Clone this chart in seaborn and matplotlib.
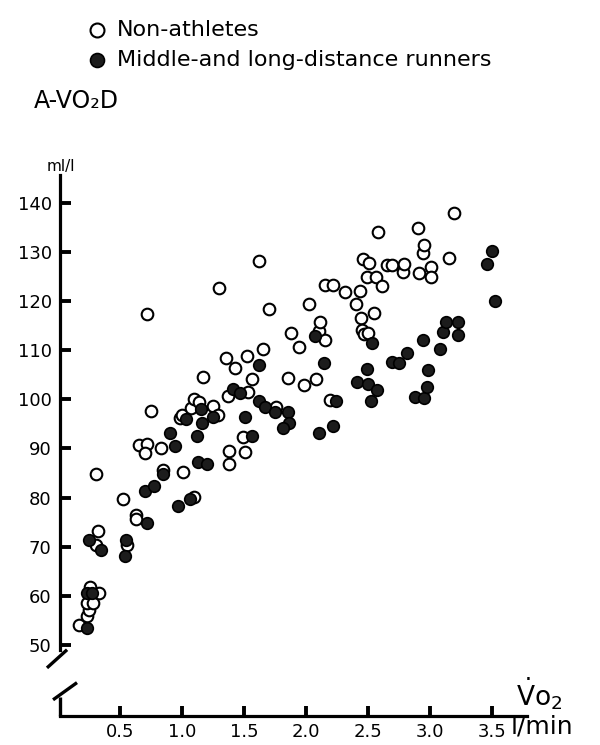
import pandas as pd
import matplotlib
matplotlib.use('Agg')
import matplotlib.pyplot as plt
import seaborn as sns

# non-athletes (open circles)
non_x = [0.17, 0.23, 0.25, 0.23, 0.28, 0.33, 0.26, 0.32, 0.31, 0.31,
         0.52, 0.63, 0.63, 0.56, 0.65, 0.72, 0.70, 0.75, 0.72, 0.83,
         0.85, 1.01, 1.10, 0.98, 1.00, 1.07, 1.10, 1.14, 1.17, 1.25,
         1.29, 1.30, 1.35, 1.37, 1.38, 1.38, 1.43, 1.49, 1.51, 1.52,
         1.53, 1.56, 1.62, 1.65, 1.70, 1.76, 1.85, 1.88, 1.94, 1.98,
         2.02, 2.08, 2.10, 2.11, 2.15, 2.15, 2.19, 2.22, 2.31, 2.40,
         2.43, 2.44, 2.45, 2.47, 2.50, 2.46, 2.51, 2.49, 2.55, 2.56,
         2.58, 2.61, 2.65, 2.69, 2.78, 2.79, 2.90, 2.91, 2.94, 2.95,
         3.01, 3.01, 3.15, 3.19]
non_y = [54.1, 55.9, 57.0, 58.5, 58.5, 60.6, 61.8, 73.2, 84.8, 70.3,
         79.7, 76.5, 75.7, 70.3, 90.7, 90.9, 89.1, 97.6, 117.4, 90.1,
         85.6, 85.2, 80.1, 96.2, 96.8, 98.2, 100.0, 99.5, 104.6, 98.7,
         96.8, 122.7, 108.4, 100.7, 89.5, 86.8, 106.4, 92.3, 89.3, 108.8,
         101.5, 104.2, 128.2, 110.3, 118.4, 98.5, 104.4, 113.5, 110.7, 102.9,
         119.4, 104.2, 113.9, 115.8, 112.1, 123.3, 99.9, 123.3, 121.9, 119.4,
         122.1, 116.6, 114.1, 113.3, 113.5, 128.6, 127.8, 124.9, 117.6, 124.9,
         134.1, 123.1, 127.4, 127.4, 126.0, 127.6, 134.9, 125.7, 129.8, 131.4,
         127.0, 124.9, 128.8, 138.0]

# middle- and long-distance runners (filled circles)
run_x = [0.23, 0.23, 0.27, 0.25, 0.35, 0.55, 0.54, 0.72, 0.70, 0.77,
         0.85, 0.97, 1.06, 0.90, 0.94, 1.03, 1.12, 1.13, 1.15, 1.16,
         1.20, 1.25, 1.41, 1.47, 1.51, 1.56, 1.62, 1.62, 1.67, 1.75,
         1.85, 1.86, 1.81, 2.07, 2.10, 2.14, 2.22, 2.24, 2.41, 2.49,
         2.50, 2.52, 2.53, 2.57, 2.69, 2.75, 2.81, 2.88, 2.94, 2.95,
         2.97, 2.98, 3.08, 3.10, 3.13, 3.22, 3.22, 3.46, 3.50, 3.52]
run_y = [53.4, 60.5, 60.6, 71.4, 69.3, 71.4, 68.1, 74.8, 81.3, 82.4,
         84.8, 78.3, 79.7, 93.2, 90.5, 95.9, 92.5, 87.2, 98.0, 95.2,
         86.8, 96.4, 102.1, 101.3, 96.4, 92.5, 107.0, 99.7, 98.5, 97.4,
         97.4, 95.2, 94.2, 112.9, 93.2, 107.4, 94.6, 99.7, 103.5, 106.2,
         103.1, 99.7, 111.5, 101.9, 107.6, 107.5, 109.5, 100.5, 112.1, 100.3,
         102.6, 106.0, 110.3, 113.7, 115.8, 115.8, 113.1, 127.6, 130.2, 120.0]

y_ticks = [50, 60, 70, 80, 90, 100, 110, 120, 130, 140]
x_ticks = [0.5, 1.0, 1.5, 2.0, 2.5, 3.0, 3.5]

sns.set_theme(style='white')
plt.rcParams['font.family'] = ['DejaVu Sans']
plt.rcParams['mathtext.fontset'] = 'dejavusans'
plt.rcParams['text.color'] = 'black'

df_non = pd.DataFrame({'vo2': non_x, 'avo2d': non_y})
df_run = pd.DataFrame({'vo2': run_x, 'avo2d': run_y})

fig = plt.figure(figsize=(6, 7.45), dpi=100)
ax = fig.add_axes([60/600, 29/745, 467/600, 541/745])

sns.scatterplot(data=df_non, x='vo2', y='avo2d', ax=ax, s=70, marker='o',
                facecolor='white', edgecolor='black', linewidth=1.5,
                label='Non-athletes', zorder=3)
sns.scatterplot(data=df_run, x='vo2', y='avo2d', ax=ax, s=70, marker='o',
                facecolor='#1c1c1c', edgecolor='black', linewidth=1.2,
                label='Middle-and long-distance runners', zorder=4)

ax.set_xlim(0.016, 3.78)
ax.set_ylim(35.5, 145.7)
ax.set_xlabel('')
ax.set_ylabel('')

for s in ['top', 'right']:
    ax.spines[s].set_visible(False)
ax.spines['left'].set_linewidth(2.3)
ax.spines['bottom'].set_linewidth(2.3)
ax.spines['left'].set_color('black')
ax.spines['bottom'].set_color('black')
ax.spines['left'].set_bounds(49, 145.7)

ax.set_yticks(y_ticks)
ax.set_yticklabels([str(v) for v in y_ticks])
ax.set_xticks(x_ticks)
ax.set_xticklabels([str(v) for v in x_ticks])
ax.tick_params(axis='y', direction='in', length=8, width=2.8, pad=6,
               labelsize=13, colors='black', left=True)
ax.tick_params(axis='x', direction='in', length=7, width=2.8, pad=5,
               labelsize=13, colors='black', bottom=True)

# axis break marks
brk = dict(color='black', lw=2.4, clip_on=False, solid_capstyle='butt')
ax.plot([-0.089, 0.073], [45.3, 49.0], **brk)
ax.plot([-0.04, 0.153], [38.8, 42.3], **brk)
ax.plot([0.016, 0.016], [35.5, 39.4], **brk)

ax.get_legend().remove()
h, l = ax.get_legend_handles_labels()
fig.legend(h, l, loc='upper left', bbox_to_anchor=(66/600, 1 - 0/745),
           bbox_transform=fig.transFigure, frameon=False, fontsize=16,
           markerscale=1.2, handletextpad=0.4, labelspacing=0.45,
           handlelength=1.0, labelcolor='black')

fig.text(34/600, 1 - 101/745, 'A-VO₂D', fontsize=17, va='center', ha='left')
fig.text(47/600, 1 - 166/745, 'ml/l', fontsize=11, va='center', ha='left')
fig.text(516/600, 1 - 694/745, r'$\dot{\mathrm{V}}\mathrm{o}_2$', fontsize=19,
         va='center', ha='left')
fig.text(511/600, 1 - 727/745, 'l/min', fontsize=18, va='center', ha='left')

fig.savefig('out.png', dpi=100)
